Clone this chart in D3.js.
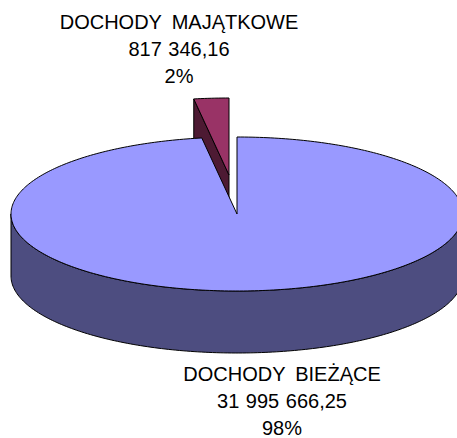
<!DOCTYPE html>
<html>
<head>
<meta charset="utf-8">
<script src="https://cdn.jsdelivr.net/npm/d3@7"></script>
<style>
  html, body { margin: 0; padding: 0; background: #fff; overflow: hidden; }
  text { font-family: "Liberation Sans", Arial, sans-serif; font-size: 20px; fill: #000; text-anchor: middle; }
</style>
</head>
<body>
<div id="chart"></div>
<script>
const categorias = ["DOCHODY BIEŻĄCE", "DOCHODY MAJĄTKOWE"];
const valores = [31995666.25, 817346.16];
const etiquetasValor = ["31 995 666,25", "817 346,16"];
const etiquetasPct = ["98%", "2%"];

const w = 457, h = 438;
const centro = { x: 237, y: 214 };
const rx = 226, ry = 77, grosor = 62;
const explosion = [{ dx: 0, dy: 0 }, { dx: -8, dy: -39 }];
const colorTapa = ["#9999ff", "#993366"];
const colorLado = ["#4d4d80", "#4d1a33"];

const svg = d3.select("#chart")
  .append("svg")
  .attr("width", w)
  .attr("height", h);

// angulos de la tarta, empieza a las 12 y gira en sentido horario
const arcos = d3.pie().sort(null)(valores);

const punto = (ang, o, z = 0) => [
  centro.x + o.dx + rx * Math.sin(ang),
  centro.y + o.dy + ry * -Math.cos(ang) + z
];
const curva = (a0, a1, o, z = 0) => {
  const n = Math.max(2, Math.ceil(Math.abs(a1 - a0) * 60));
  return d3.range(n + 1).map(i => punto(a0 + (a1 - a0) * i / n, o, z));
};
const linea = d3.line();
const poligono = pts => linea(pts) + "Z";

function dibuja(sel, pts, fill) {
  sel.append("path")
    .attr("d", poligono(pts))
    .attr("fill", fill)
    .attr("stroke", "#000")
    .attr("stroke-width", 1)
    .attr("stroke-linejoin", "round");
}

// Porcion pequeña: primero, queda detras de la grande
const p = arcos[1], op = explosion[1];
const gp = svg.append("g");
const vertice = [centro.x + op.dx, centro.y + op.dy];
const vuelta = punto(p.startAngle, op);
dibuja(gp, [vertice, vuelta, [vuelta[0], vuelta[1] + grosor], [vertice[0], vertice[1] + grosor]], colorLado[1]);
dibuja(gp, [vertice].concat(curva(p.startAngle, p.endAngle, op)), colorTapa[1]);

// Porcion grande: pared frontal y tapa
const g0 = arcos[0], o0 = explosion[0];
const gg = svg.append("g");
const frente = curva(Math.PI / 2, Math.PI * 3 / 2, o0);
const frenteAbajo = curva(Math.PI * 3 / 2, Math.PI / 2, o0, grosor);
dibuja(gg, frente.concat(frenteAbajo), colorLado[0]);
dibuja(gg, [[centro.x, centro.y]].concat(curva(g0.startAngle, g0.endAngle, o0)), colorTapa[0]);

// Etiquetas
const posEtiquetas = [{ x: 282, y: 381 }, { x: 179, y: 29 }];
categorias.forEach((c, i) => {
  const t = svg.append("text").attr("x", posEtiquetas[i].x).attr("y", posEtiquetas[i].y);
  [c, etiquetasValor[i], etiquetasPct[i]].forEach((s, j) => {
    t.append("tspan")
      .attr("x", posEtiquetas[i].x)
      .attr("y", posEtiquetas[i].y + j * 27)
      .style("word-spacing", j === 0 ? "4.5px" : "1px")
      .text(s);
  });
});
</script>
</body>
</html>
